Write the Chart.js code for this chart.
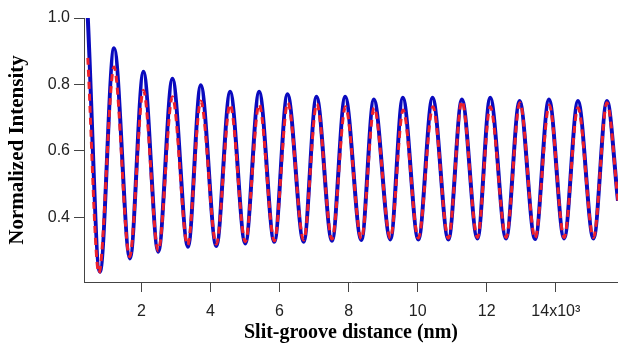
<!DOCTYPE html>
<html>
<head>
<meta charset="utf-8">
<script src="https://cdn.jsdelivr.net/npm/chart.js@4/dist/chart.umd.min.js"></script>
<style>
  body { margin: 0; background: #fff; }
  canvas { display: block; }
</style>
</head>
<body>
<canvas id="myChart" width="618" height="343"></canvas>
<script>
// peaks / troughs (x in 10^3 nm)
const blueX = [0.45, 0.80, 1.21, 1.67, 2.06, 2.49, 2.90, 3.35, 3.72, 4.17, 4.57, 5.01, 5.41, 5.85, 6.23, 6.70, 7.07, 7.52, 7.90, 8.37, 8.73, 9.21, 9.57, 10.02, 10.43, 10.89, 11.28, 11.73, 12.10, 12.56, 12.95, 13.40, 13.80, 14.24, 14.64, 15.09, 15.48, 15.80];
const blueY = [1.0, 0.237, 0.909, 0.277, 0.838, 0.297, 0.817, 0.312, 0.798, 0.314, 0.778, 0.322, 0.778, 0.327, 0.771, 0.327, 0.763, 0.330, 0.763, 0.332, 0.755, 0.334, 0.760, 0.334, 0.760, 0.334, 0.755, 0.337, 0.760, 0.337, 0.750, 0.335, 0.755, 0.337, 0.750, 0.337, 0.750, 0.45];

const redX = [0.45, 0.77, 1.21, 1.66, 2.06, 2.49, 2.90, 3.34, 3.72, 4.17, 4.57, 5.01, 5.41, 5.85, 6.24, 6.70, 7.08, 7.52, 7.91, 8.37, 8.74, 9.21, 9.58, 10.02, 10.44, 10.89, 11.28, 11.73, 12.10, 12.56, 12.96, 13.40, 13.81, 14.24, 14.64, 15.09, 15.48, 15.80];
const redY = [0.88, 0.233, 0.853, 0.282, 0.783, 0.300, 0.763, 0.317, 0.750, 0.320, 0.740, 0.327, 0.740, 0.330, 0.745, 0.332, 0.742, 0.335, 0.733, 0.336, 0.730, 0.338, 0.723, 0.338, 0.733, 0.338, 0.750, 0.340, 0.733, 0.340, 0.745, 0.338, 0.738, 0.340, 0.730, 0.340, 0.745, 0.45];

const xTicks = [2, 4, 6, 8, 10, 12, 14];
const yTicks = [0.4, 0.6, 0.8, 1.0];

function toPoints(xs, ys) {
     let pts = [];
     for (let i = 0; i < xs.length; i++) {
          pts.push({ x: xs[i], y: ys[i] });
     }
     return pts;
}

const tickFont = { family: "Liberation Sans, Arial, sans-serif", size: 16 };

const ctx = document.getElementById("myChart").getContext("2d");
var chart = new Chart(ctx, {
     type: "line",
     data: {
          datasets: [
               {
                    label: "fit",
                    data: toPoints(redX, redY),
                    borderColor: "rgb(236,32,44)",
                    borderWidth: 3,
                    borderDash: [7, 5],
                    pointRadius: 0,
                    cubicInterpolationMode: "monotone",
                    fill: false
               },
               {
                    label: "data",
                    data: toPoints(blueX, blueY),
                    borderColor: "rgb(10,10,190)",
                    borderWidth: 4,
                    pointRadius: 0,
                    cubicInterpolationMode: "monotone",
                    fill: false
               }
          ]
     },
     options: {
          responsive: false,
          animation: false,
          devicePixelRatio: 1,
          layout: { padding: { top: 18, right: 0, bottom: 0, left: 0 } },
          plugins: { legend: { display: false }, tooltip: { enabled: false } },
          scales: {
               x: {
                    type: "linear",
                    min: 0.34,
                    max: 15.8,
                    border: { color: "#444", width: 1 },
                    grid: { drawOnChartArea: false, tickLength: 10, tickColor: "#444" },
                    afterBuildTicks: function (axis) {
                         axis.ticks = xTicks.map(v => ({ value: v }));
                    },
                    afterFit: function (axis) { axis.height = 61; },
                    ticks: {
                         color: "#222",
                         font: tickFont,
                         padding: 10,
                         maxRotation: 0,
                         autoSkip: false,
                         callback: function (v) { return v === 14 ? "14x10\u00B3" : String(v); }
                    },
                    title: {
                         display: true,
                         text: "Slit-groove distance (nm)",
                         color: "#000",
                         font: { family: "Liberation Serif, Times New Roman, serif", size: 20, weight: "bold", lineHeight: 1 },
                         padding: { top: 0, bottom: 0 }
                    }
               },
               y: {
                    min: 0.206,
                    max: 1.0,
                    border: { color: "#444", width: 1 },
                    grid: { drawOnChartArea: false, tickLength: 10, tickColor: "#444" },
                    afterBuildTicks: function (axis) {
                         axis.ticks = yTicks.map(v => ({ value: v }));
                    },
                    afterFit: function (axis) { axis.width = 84; },
                    ticks: {
                         color: "#222",
                         font: tickFont,
                         padding: 4,
                         callback: function (v) { return v.toFixed(1); }
                    },
                    title: {
                         display: true,
                         text: "Normalized Intensity",
                         color: "#000",
                         font: { family: "Liberation Serif, Times New Roman, serif", size: 21, weight: "bold", lineHeight: 1 },
                         padding: { top: 7, bottom: 0 }
                    }
               }
          }
     }
});
</script>
</body>
</html>
